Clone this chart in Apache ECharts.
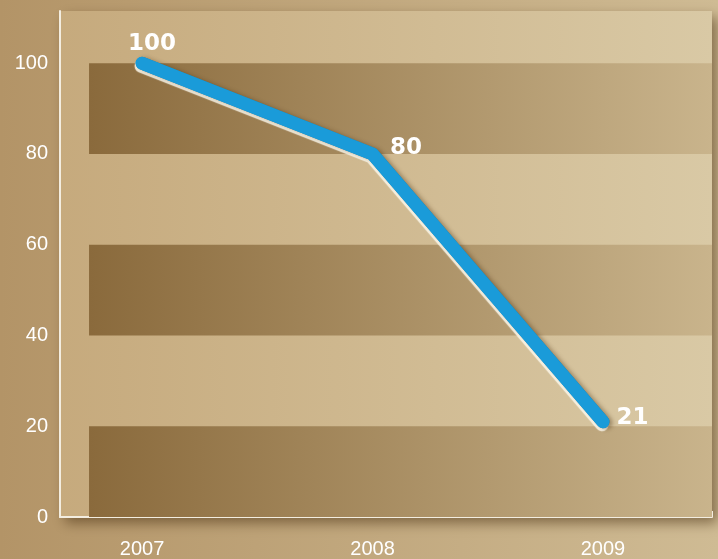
<!DOCTYPE html>
<html><head><meta charset="utf-8">
<style>html,body{margin:0;padding:0;}#c{width:718px;height:559px;}</style>
<script src="https://cdn.jsdelivr.net/npm/echarts@6/dist/echarts.min.js"></script>
</head><body><div id="c"></div>
<script>
const years = [2007, 2008, 2009];
const values = [100, 80, 21];
const yTicks = [0, 20, 40, 60, 80, 100];
const bands = [[0, 20], [40, 60], [80, 100]];

const labelStyles = [
  {position: 'top', offset: [10, -2]},
  {position: 'right', offset: [12, -6]},
  {position: 'right', offset: [8, -4]}
];

const grad = (a, b) => new echarts.graphic.LinearGradient(0, 0, 1, 0, [{offset: 0, color: a}, {offset: 1, color: b}]);

const chart = echarts.init(document.getElementById('c'));
chart.setOption({
  animation: false,
  backgroundColor: grad('#b39467', '#cfbb94'),
  grid: {
    show: true, left: 60, top: 11, right: 6, bottom: 42,
    backgroundColor: grad('#c6aa7d', '#d9c9a5'),
    borderWidth: 0,
    shadowColor: 'rgba(70,45,15,0.55)', shadowBlur: 12, shadowOffsetX: 5, shadowOffsetY: 6
  },
  xAxis: {
    type: 'value', min: 2006.644, max: 2009.473,
    axisLine: {lineStyle: {color: '#f3ede0', width: 2}},
    axisTick: {show: true, inside: true, length: 6, customValues: years.concat([2009.473]), lineStyle: {color: '#f3ede0', width: 2}},
    axisLabel: {customValues: years, color: '#ffffff', fontSize: 20, fontFamily: 'Liberation Sans', margin: 22, formatter: v => String(Math.round(v))},
    splitLine: {show: false}
  },
  yAxis: {
    type: 'value', min: 0, max: 111.5,
    axisLine: {show: true, lineStyle: {color: '#f3ede0', width: 2}},
    axisTick: {show: false},
    axisLabel: {customValues: yTicks, color: '#ffffff', fontSize: 20, fontFamily: 'Liberation Sans', margin: 12},
    splitLine: {show: false}
  },
  series: [{
    type: 'line',
    data: years.map((y, i) => ({
      value: [y, values[i]],
      label: {show: true, position: labelStyles[i].position, offset: labelStyles[i].offset}
    })),
    symbol: 'circle', symbolSize: 1, showSymbol: true,
    itemStyle: {color: 'rgba(0,0,0,0)'},
    lineStyle: {color: '#1a9bd9', width: 13, cap: 'round', join: 'round',
      shadowColor: 'rgba(70,45,15,0.4)', shadowBlur: 4, shadowOffsetX: 3, shadowOffsetY: 1},
    label: {color: '#ffffff', fontSize: 23, fontWeight: 'bold', fontFamily: 'DejaVu Sans'},
    z: 5,
    markArea: {
      silent: true,
      itemStyle: {color: grad('#8a6a3c', '#c9b48c')},
      data: bands.map(b => [{xAxis: 2006.77, yAxis: b[0]}, {xAxis: 2009.473, yAxis: b[1]}])
    }
  }, {
    type: 'line',
    data: years.map((y, i) => [y, values[i]]),
    symbol: 'none', silent: true,
    lineStyle: {color: '#1a9bd9', width: 13, cap: 'round', join: 'round',
      shadowColor: 'rgba(255,252,240,0.9)', shadowBlur: 1, shadowOffsetX: -1, shadowOffsetY: 3},
    z: 4
  }]
});
</script></body></html>
